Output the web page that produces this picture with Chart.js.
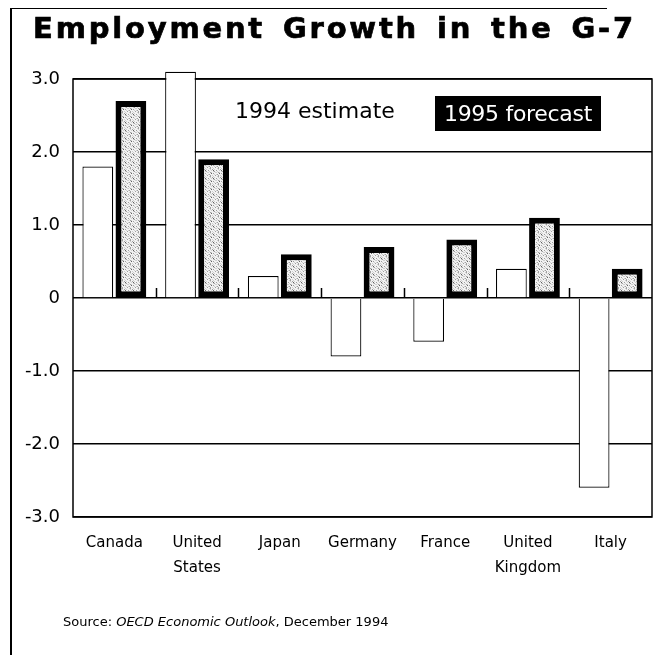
<!DOCTYPE html>
<html><head><meta charset="utf-8">
<script src="https://cdn.jsdelivr.net/npm/chart.js@4"></script>
<style>
html,body{margin:0;padding:0;background:#fff;}
#wrap{position:relative;width:659px;height:655px;overflow:hidden;background:#fff;}
#frame{position:absolute;left:10px;top:8px;width:595px;height:700px;border-left:2px solid #000;border-top:1.5px solid #000;pointer-events:none;}
#title{position:absolute;left:12px;width:645px;top:11px;text-align:center;font:bold 29px "DejaVu Sans";letter-spacing:2.8px;word-spacing:5px;color:#000;white-space:nowrap;-webkit-text-stroke:0.7px #000;}
#lg1{position:absolute;left:235px;top:98px;font:22px "DejaVu Sans";color:#000;white-space:nowrap;}
#lg2{position:absolute;left:435px;top:96px;width:166px;height:35px;text-align:center;background:#000;color:#fff;white-space:nowrap;overflow:hidden;}
#lg2 span{position:relative;top:5px;font:22px "DejaVu Sans";letter-spacing:-0.3px;}
#src{position:absolute;left:63px;top:614px;font:13px "DejaVu Sans";color:#000;white-space:nowrap;}
canvas{position:absolute;left:0;top:0;}
</style></head>
<body>
<div id="wrap">
<canvas id="c" width="659" height="655"></canvas>
<div id="frame"></div>
<div id="title">Employment Growth in the G-7</div>
<div id="lg1">1994 estimate</div>
<div id="lg2"><span>1995 forecast</span></div>
<div id="src">Source: <i>OECD Economic Outlook</i>, December 1994</div>
</div>
<script>
const categories = [['Canada'], ['United', 'States'], ['Japan'], ['Germany'], ['France'], ['United', 'Kingdom'], ['Italy']];
const estimate1994 = [1.8, 3.1, 0.3, -0.8, -0.6, 0.4, -2.6];
const forecast1995 = [2.7, 1.9, 0.6, 0.7, 0.8, 1.1, 0.4];
const yTicks = [-3, -2, -1, 0, 1, 2, 3];
const yTickLabels = ['-3.0', '-2.0', '-1.0', '0', '1.0', '2.0', '3.0'];

// stippled texture for the forecast bars (fixed hand-made tile)
const tileRows = [
  '01200100',
  '00102010',
  '20010300',
  '01000120',
  '10210001',
  '00030200',
  '12000010',
  '00201002'
];
const shades = ['#f2f2f2', '#cfcfcf', '#a0a0a0', '#606060'];
const tc = document.createElement('canvas');
tc.width = 8; tc.height = 8;
const tctx = tc.getContext('2d');
tileRows.forEach((row, r) => {
  for (let c = 0; c < row.length; c++) {
    tctx.fillStyle = shades[+row[c]];
    tctx.fillRect(c, r, 1, 1);
  }
});
const ctx = document.getElementById('c').getContext('2d');
const stipple = ctx.createPattern(tc, 'repeat');

const framePlugin = {
  id: 'frame',
  beforeDatasetsDraw(chart) {
    const a = chart.chartArea, g = chart.ctx;
    g.save();
    g.strokeStyle = '#000';
    g.lineWidth = 1.5;
    g.strokeRect(a.left, a.top, a.right - a.left, a.bottom - a.top);
    g.restore();
  },
  afterDatasetsDraw(chart) {
    const x = chart.scales.x, y = chart.scales.y, g = chart.ctx;
    const y0 = y.getPixelForValue(0);
    g.save();
    g.strokeStyle = '#000';
    g.lineWidth = 1.5;
    g.beginPath();
    for (let i = 0; i < categories.length - 1; i++) {
      const px = Math.round((x.getPixelForValue(i) + x.getPixelForValue(i + 1)) / 2) + 0.5;
      g.moveTo(px, y0);
      g.lineTo(px, y0 - 10);
    }
    g.stroke();
    g.restore();
  }
};

new Chart(ctx, {
  type: 'bar',
  data: {
    labels: categories,
    datasets: [
      {
        label: '1994 estimate',
        data: estimate1994,
        backgroundColor: '#ffffff',
        borderColor: '#000000',
        borderWidth: 1.2,
        borderSkipped: 'start',
        clip: false
      },
      {
        label: '1995 forecast',
        data: forecast1995,
        backgroundColor: stipple,
        borderColor: '#000000',
        borderWidth: 6,
        borderSkipped: false,
        clip: false
      }
    ]
  },
  options: {
    responsive: false,
    animation: false,
    layout: { padding: { top: 79, right: 7, left: 0, bottom: 0 } },
    datasets: { bar: { categoryPercentage: 0.8, barPercentage: 0.93 } },
    plugins: { legend: { display: false }, tooltip: { enabled: false }, title: { display: false } },
    scales: {
      x: {
        grid: { display: false },
        border: { display: false },
        ticks: { color: '#000', font: { family: 'DejaVu Sans', size: 15, lineHeight: 1.7 }, padding: 5, maxRotation: 0, autoSkip: false },
        afterFit(s) { s.height = 138; }
      },
      y: {
        min: -3, max: 3,
        afterBuildTicks(s) { s.ticks = yTicks.map(v => ({ value: v })); },
        grid: { color: '#000', lineWidth: 1.5, drawTicks: false },
        border: { display: false },
        ticks: {
          color: '#000', padding: 13,
          font: { family: 'DejaVu Sans', size: 18 },
          callback(v) { return yTickLabels[yTicks.indexOf(v)]; }
        },
        afterFit(s) { s.width = 73; }
      }
    }
  },
  plugins: [framePlugin]
});
</script>
</body></html>
